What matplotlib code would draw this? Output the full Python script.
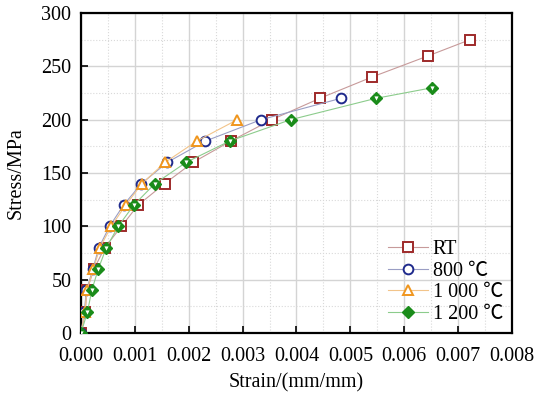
import matplotlib
matplotlib.use("Agg")
import matplotlib.pyplot as plt
from matplotlib.ticker import MultipleLocator, FormatStrFormatter

plt.rcParams['font.family'] = ['Liberation Serif', 'Noto Sans CJK SC', 'DejaVu Serif']
plt.rcParams['mathtext.fontset'] = 'stix'

labels = ["RT", "800 \u2103", "1 000 \u2103", "1 200 \u2103"]

rt_strain = [0, 0.00008, 0.00011, 0.00024, 0.00044, 0.00075, 0.00106, 0.00155, 0.00208,
             0.00278, 0.00354, 0.00443, 0.00540, 0.00645, 0.00722]
rt_stress = [0, 20, 40, 60, 80, 100, 120, 140, 160, 180, 200, 220, 240, 260, 275]

t800_strain = [0, 0.00006, 0.00010, 0.00022, 0.00033, 0.00053, 0.00079, 0.00112, 0.00160,
               0.00231, 0.00334, 0.00482]
t800_stress = [0, 20, 40, 60, 80, 100, 120, 140, 160, 180, 200, 220]

t1000_strain = [0, 0.00007, 0.00011, 0.00023, 0.00035, 0.00056, 0.00083, 0.00113, 0.00156,
                0.00215, 0.00290]
t1000_stress = [0, 20, 40, 60, 80, 100, 120, 140, 160, 180, 200]

t1200_strain = [0, 0.00012, 0.00020, 0.00032, 0.00047, 0.00069, 0.00098, 0.00137, 0.00195,
                0.00276, 0.00389, 0.00547, 0.00652]
t1200_stress = [0, 20, 40, 60, 80, 100, 120, 140, 160, 180, 200, 220, 230]

FS = 14.5

fig = plt.figure(figsize=(5.38, 3.96), dpi=100)
ax = fig.add_axes([0.1506, 0.159, 0.801, 0.808])

ax.plot(rt_strain, rt_stress, '-', color='#c79a9a', lw=0.8, marker='s', ms=6.5,
        mfc='white', mec='#9e2a2a', mew=1.4, label=labels[0], zorder=3)
ax.plot(t800_strain, t800_stress, '-', color='#9a9ec4', lw=0.8, marker='o', ms=7,
        mfc='white', mec='#1f2a8c', mew=1.4, label=labels[1], zorder=4)
ax.plot(t1000_strain, t1000_stress, '-', color='#f2c48a', lw=0.8, marker='^', ms=7.5,
        mfc='white', mec='#f0961e', mew=1.4, label=labels[2], zorder=5)
ax.plot(t1200_strain, t1200_stress, '-', color='#8ccc8c', lw=0.8, marker='D', ms=6.5,
        mfc='#1a8c1a', mec='#1a8c1a', mew=1.0, label=labels[3], zorder=6)
ax.plot(t1200_strain, t1200_stress, linestyle='none', marker='v', ms=3,
        mfc='white', mec='white', mew=0, zorder=7)

ax.set_xlim(0, 0.008)
ax.set_ylim(0, 300)
ax.xaxis.set_major_locator(MultipleLocator(0.001))
ax.xaxis.set_minor_locator(MultipleLocator(0.0005))
ax.yaxis.set_major_locator(MultipleLocator(50))
ax.yaxis.set_minor_locator(MultipleLocator(25))
ax.xaxis.set_major_formatter(FormatStrFormatter('%.3f'))

ax.grid(which='major', color='#d4d4d4', lw=1.0, ls='-')
ax.grid(which='minor', color='#d9d9d9', lw=0.8, ls=':')
ax.set_axisbelow(True)

ax.tick_params(which='major', direction='in', length=5, width=1.2, labelsize=FS,
               top=False, right=False)
ax.tick_params(axis='x', which='major', pad=10)
ax.tick_params(axis='y', which='major', pad=7)
ax.tick_params(which='minor', length=0)
for s in ax.spines.values():
    s.set_linewidth(1.6)

ax.set_xlabel('Strain/(mm/mm)', fontsize=FS, labelpad=5)
ax.set_ylabel('Stress/MPa', fontsize=FS, labelpad=11)

leg = ax.legend(loc='lower right', frameon=False, fontsize=FS, handlelength=2.0,
                handletextpad=0.2, labelspacing=0.12, borderaxespad=0.05)

fig.savefig('out.png', dpi=100)
